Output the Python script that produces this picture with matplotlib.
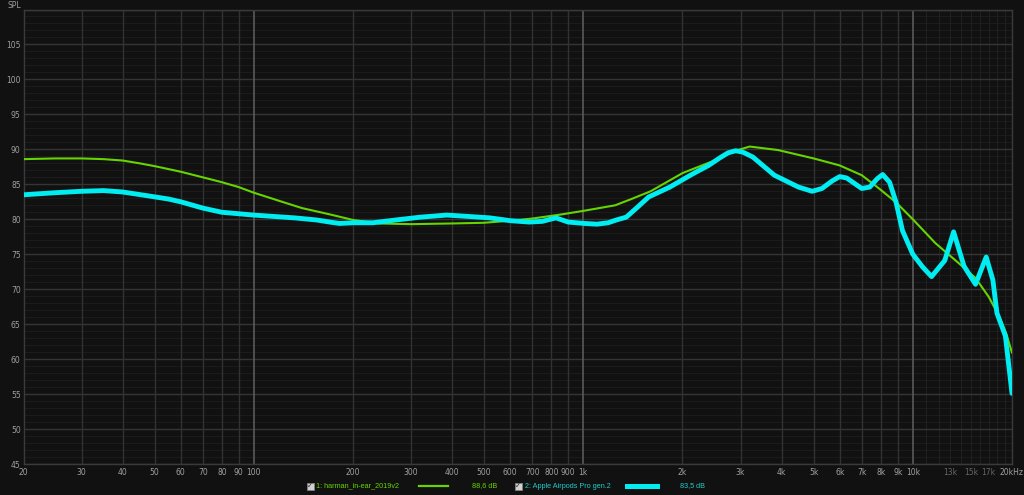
import matplotlib
matplotlib.use("Agg")
import matplotlib.pyplot as plt
from matplotlib.patches import Rectangle
from matplotlib.lines import Line2D
import numpy as np

# frequency response data (Hz, dB)
harman_freq = [20, 25, 30, 35, 40, 45, 50, 60, 70, 80, 90, 100, 120, 140, 170, 200,
               240, 300, 400, 500, 600, 700, 860, 1000, 1250, 1400, 1600, 2000, 2500,
               2800, 3200, 3900, 5000, 6000, 7000, 7900, 8900, 10000, 11700,
               13800, 15500, 17000, 18200, 19200, 20000]
harman_db = [88.6, 88.7, 88.7, 88.6, 88.4, 88.0, 87.6, 86.8, 86.0, 85.3, 84.6, 83.8,
             82.6, 81.6, 80.7, 79.9, 79.4, 79.3, 79.4, 79.5, 79.8, 80.1, 80.7, 81.2,
             82.0, 82.9, 84.0, 86.6, 88.4, 89.6, 90.4, 89.9, 88.7, 87.7, 86.3, 84.4,
             82.4, 80.0, 76.6, 73.7, 71.6, 68.9, 66.3, 63.7, 60.9]

airpods_freq = [20, 25, 30, 35, 40, 47, 55, 60, 70, 80, 100, 133, 155, 170, 182, 200,
                230, 270, 320, 385, 450, 520, 600, 685, 750, 826, 900, 1010, 1100,
                1190, 1260, 1350, 1450, 1580, 1830, 2150, 2400, 2600, 2750, 2900,
                3050, 3270, 3800, 4500, 4950, 5300, 5700, 6000, 6300, 7000, 7400,
                7800, 8100, 8500, 8900, 9300, 10000, 10700, 11400, 12500, 13300,
                14300, 15500, 16700, 17500, 18000, 19100, 20000]
airpods_db = [83.5, 83.8, 84.0, 84.1, 83.9, 83.4, 82.9, 82.5, 81.6, 81.0, 80.6, 80.2,
              79.9, 79.6, 79.4, 79.5, 79.5, 79.9, 80.3, 80.6, 80.4, 80.2, 79.8, 79.6,
              79.7, 80.2, 79.6, 79.4, 79.3, 79.5, 79.9, 80.3, 81.6, 83.2, 84.6, 86.5,
              87.7, 88.8, 89.5, 89.8, 89.6, 88.9, 86.3, 84.6, 84.0, 84.4, 85.5, 86.1,
              85.9, 84.4, 84.6, 85.8, 86.4, 85.3, 82.4, 78.4, 75.0, 73.2, 71.8, 74.1,
              78.2, 73.3, 70.7, 74.6, 71.3, 66.6, 63.3, 55.1]

x_ticks = [20, 30, 40, 50, 60, 70, 80, 90, 100, 200, 300, 400, 500, 600, 700, 800, 900,
           1000, 2000, 3000, 4000, 5000, 6000, 7000, 8000, 9000, 10000, 13000, 15000,
           17000, 20000]
x_labels = ["20", "30", "40", "50", "60", "70", "80", "90", "100", "200", "300", "400",
            "500", "600", "700", "800", "900", "1k", "2k", "3k", "4k", "5k", "6k", "7k",
            "8k", "9k", "10k", "13k", "15k", "17k", "20kHz"]
y_ticks = [45, 50, 55, 60, 65, 70, 75, 80, 85, 90, 95, 100, 105]

legend_names = ["1: harman_in-ear_2019v2", "2: Apple Airpods Pro gen.2"]
legend_levels = ["88,6 dB", "83,5 dB"]

BG = "#111111"
GREEN = "#66d400"
CYAN = "#00eef2"

W, H = 1024, 495
fig = plt.figure(figsize=(W / 100, H / 100), dpi=100, facecolor=BG)
ax = fig.add_axes([23.5 / W, 1 - 464 / H, (1012 - 23.5) / W, (464 - 9.5) / H])
ax.set_facecolor(BG)
ax.set_xscale("log")
ax.set_xlim(20, 20000)
ax.set_ylim(45, 110)

# grid
for v in range(45, 111):
    if v % 5 == 0:
        ax.axhline(v, color="#353535", lw=1.0, zorder=1)
    else:
        ax.axhline(v, color="#1b1b1b", lw=0.8, zorder=0)
for dec in [10, 100, 1000]:
    for m in range(2, 10):
        f = m * dec
        if 20 < f < 20000:
            ax.axvline(f, color="#323232", lw=1.0, zorder=1)
for f in [100, 1000, 10000]:
    ax.axvline(f, color="#5a5a5a", lw=1.2, zorder=1)
for f in range(11000, 20000, 1000):
    ax.axvline(f, color="#202020", lw=0.8, zorder=0)

for s in ax.spines.values():
    s.set_color("#3a3a3a")
    s.set_linewidth(1.0)

ax.plot(harman_freq, harman_db, color=GREEN, lw=1.5, zorder=3,
        solid_joinstyle="round", solid_capstyle="round")
ax.plot(airpods_freq, airpods_db, color=CYAN, lw=3.5, zorder=4,
        solid_joinstyle="round", solid_capstyle="round")

ax.set_xticks(x_ticks)
ax.set_xticklabels(x_labels)
ax.xaxis.set_minor_locator(matplotlib.ticker.NullLocator())
ax.set_yticks(y_ticks)
ax.set_yticklabels([str(v) for v in y_ticks])
ax.tick_params(axis="both", length=0, labelsize=5.5, colors="#a0a0a0")
ax.tick_params(axis="x", pad=3)
ax.tick_params(axis="y", pad=2)
for lab in ax.get_xticklabels():
    if lab.get_text() in ("13k", "15k", "17k"):
        lab.set_color("#666666")

fig.text(8 / W, 1 - 5 / H, "SPL", color="#a0a0a0", fontsize=5.5, va="center", ha="left")

# legend row at the bottom
row_y = 1 - 486 / H
box_x = [306.5, 514.5]
text_x = [316, 525]
line_x = [(419, 448), (627, 657)]
level_x = [472, 680]
colors = [GREEN, "#20cccc"]
line_colors = [GREEN, CYAN]
line_widths = [1.6, 3.6]
for i in range(2):
    fig.patches.append(Rectangle((box_x[i] / W, row_y - 3.5 / H), 7 / W, 7 / H,
                                 transform=fig.transFigure, facecolor="#d0d0d0",
                                 edgecolor="#808080", lw=0.6))
    fig.text((box_x[i] + 3.5) / W, row_y, "\u2713", color="#222222", fontsize=5,
             ha="center", va="center")
    fig.text(text_x[i] / W, row_y, legend_names[i], color=colors[i], fontsize=5.2,
             family="Liberation Sans", ha="left", va="center")
    fig.lines.append(Line2D([line_x[i][0] / W, line_x[i][1] / W], [row_y, row_y],
                            transform=fig.transFigure, color=line_colors[i],
                            lw=line_widths[i]))
    fig.text(level_x[i] / W, row_y, legend_levels[i], color=colors[i], fontsize=5.2,
             family="Liberation Sans", ha="left", va="center")

fig.savefig("out.png", dpi=100, facecolor=BG)
